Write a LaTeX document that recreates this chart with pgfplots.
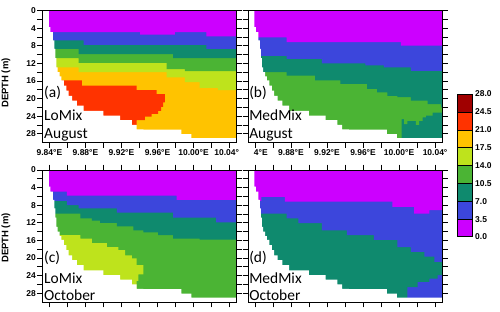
\documentclass[border=0pt]{standalone}
\usepackage{fontspec}
\setmainfont{Liberation Sans}
\newfontfamily\panelfont{Carlito}
\usepackage{pgfplots}
\pgfplotsset{compat=1.18}
\definecolor{cpur}{RGB}{204,0,255}
\definecolor{cblu}{RGB}{60,70,220}
\definecolor{ctea}{RGB}{15,138,110}
\definecolor{cgrn}{RGB}{75,180,52}
\definecolor{cygr}{RGB}{190,227,28}
\definecolor{camb}{RGB}{255,195,0}
\definecolor{cred}{RGB}{255,51,0}
\definecolor{cdrd}{RGB}{160,0,0}
\pgfplotsset{
  panel/.style={scale only axis, width=194bp, height=132bp, anchor=center,
    xmin=9.8323, xmax=10.0477, ymin=0, ymax=30, y dir=reverse, axis on top,
    xtick={9.84,9.88,9.92,9.96,10.00,10.04}, minor xtick={9.86,9.90,9.94,9.98,10.02},
    ytick={0,4,...,28}, minor ytick={2,6,...,26},
    tick align=outside, major tick length=5.5bp, minor tick length=5.5bp,
    tick style={black, line width=0.7pt}, axis line style={line width=0.9pt},
    ticklabel style={font=\fontsize{8.5}{9}\selectfont\bfseries, inner sep=1pt},
    /pgf/number format/assume math mode=true},
  layer/.style={const plot, fill=#1, draw=none},
}
\tikzset{ptext/.style={anchor=base west, inner sep=0pt, font=\panelfont\fontsize{15.5}{16}\selectfont}}
\newcommand{\seafloor}{\addplot[const plot, fill=white, draw=none] coordinates {(9.8323,30)(9.8323,0)(9.8393,3.8)(9.8411,4.9)(9.8437,6.8)(9.8456,8.7)(9.8467,10.8)(9.8478,12.9)(9.8492,14.0)(9.8514,15.0)(9.8533,15.9)(9.8559,17.1)(9.8588,18.2)(9.8614,19.4)(9.8651,20.5)(9.8706,21.6)(9.8780,22.8)(9.9000,23.9)(9.9185,24.9)(9.9314,26.0)(9.9369,27.0)(9.9442,27.1)(9.9866,28.1)(9.9976,29.0)(10.0477,29.0)(10.0477,30)} -- cycle;}
\begin{document}
\begin{tikzpicture}
\path[use as bounding box] (0,0) rectangle (500bp,312bp);
% ---------- (a) LoMix August
\begin{axis}[panel, at={(139.5bp,235.5bp)}, xtick pos=left,
  xticklabels={9.84°E,9.88°E,9.92°E,9.96°E,10.00°E,10.04°\phantom{E}}]
\addplot[fill=camb, draw=none] coordinates {(9.8323,30)(10.0477,30)} \closedcycle;
\addplot[fill=cred, draw=none] coordinates {(9.8533,30)(9.8533,15.9)(9.8761,15.9)(9.8761,17.1)(9.9369,17.1)(9.9369,18.1)(9.9590,18.1)(9.9590,19.0)(9.9682,19.0)(9.9682,20.9)(9.9663,20.9)(9.9663,21.9)(9.9641,21.9)(9.9641,22.8)(9.9608,22.8)(9.9608,23.5)(9.9534,23.5)(9.9534,24.1)(9.9461,24.1)(9.9461,24.9)(9.9369,24.9)(9.9369,26.0)(9.9314,26.0)(9.9314,30)} -- cycle;
\addplot[layer=cygr] coordinates {(9.8323,12.9)(9.8724,14.0)(9.9700,15.2)(9.9903,16.3)(10.0068,17.6)(10.0271,18.1)(10.0477,18.1)} \closedcycle;
\addplot[layer=cgrn] coordinates {(9.8323,10.8)(9.8724,11.9)(9.9700,13.3)(9.9903,13.8)(10.0477,13.8)} \closedcycle;
\addplot[layer=ctea] coordinates {(9.8323,8.7)(9.8724,9.9)(9.9774,10.8)(10.0477,10.8)} \closedcycle;
\addplot[layer=cblu] coordinates {(9.8323,6.8)(9.8780,7.8)(10.0142,8.7)(10.0477,8.7)} \closedcycle;
\addplot[layer=cpur] coordinates {(9.8323,4.9)(9.9406,5.5)(9.9792,4.9)(10.0142,5.9)(10.0477,5.9)} \closedcycle;
\seafloor
\node[ptext] at (axis cs:9.834,19.8) {(a)};
\node[ptext] at (axis cs:9.834,25.1) {LoMix};
\node[ptext] at (axis cs:9.834,29.0) {August};
\end{axis}
% ---------- (b) MedMix August
\begin{axis}[panel, at={(345bp,235.5bp)}, xtick pos=left, yticklabels={},
  xticklabels={\phantom{9.8}4°E,9.88°E,9.92°E,9.96°E,10.00°E,10.04°}]
\addplot[fill=ctea, draw=none] coordinates {(9.8323,30)(10.0477,30)} \closedcycle;
\addplot[layer=cgrn] coordinates {(9.8323,30)(10.0030,24.7)(10.0056,25.8)(10.0093,25.1)(10.0187,26.0)(10.0224,25.1)(10.0261,24.3)(10.0298,23.9)(10.0373,23.2)(10.0477,23.2)} \closedcycle;
\addplot[layer=ctea] coordinates {(9.8323,14.0)(9.8752,14.8)(9.9068,15.9)(9.9348,16.7)(9.9646,17.8)(9.9758,18.6)(9.9870,19.4)(9.9982,19.7)(10.0131,20.5)(10.0317,21.3)(10.0466,22.0)(10.0477,22.0)} \closedcycle;
\addplot[layer=cblu] coordinates {(9.8323,10.3)(9.8752,11.0)(9.9143,12.0)(9.9627,12.5)(9.9832,12.9)(10.0131,13.7)(10.0477,13.7)} \closedcycle;
\addplot[layer=cpur] coordinates {(9.8323,6.1)(9.8752,7.2)(10.0019,8.0)(10.0477,8.0)} \closedcycle;
\seafloor
\node[ptext] at (axis cs:9.8335,19.8) {(b)};
\node[ptext] at (axis cs:9.8335,25.1) {MedMix};
\node[ptext] at (axis cs:9.8335,29.0) {August};
\end{axis}
% ---------- (c) LoMix October
\begin{axis}[panel, at={(139.5bp,76bp)}, xticklabels={}]
\addplot[fill=cgrn, draw=none] coordinates {(9.8323,30)(10.0477,30)} \closedcycle;
\addplot[fill=cygr, draw=none] coordinates {(9.8503,30)(9.8503,14.8)(9.8743,14.8)(9.8743,15.6)(9.8872,15.6)(9.8872,16.6)(9.9037,16.6)(9.9037,17.5)(9.9166,17.5)(9.9166,18.2)(9.9240,18.2)(9.9240,19.4)(9.9314,19.4)(9.9314,20.1)(9.9369,20.1)(9.9369,21.6)(9.9442,21.6)(9.9442,23.7)(9.9387,23.7)(9.9387,25.2)(9.9369,25.2)(9.9369,30)} -- cycle;
\addplot[layer=ctea] coordinates {(9.8323,9.9)(9.8743,11.0)(9.8872,11.5)(9.8964,12.0)(9.9148,12.8)(9.9332,13.7)(9.9442,14.2)(9.9608,14.8)(9.9774,15.6)(10.0068,15.8)(10.0477,15.8)} \closedcycle;
\addplot[layer=cblu] coordinates {(9.8323,7.0)(9.8595,8.0)(9.8724,8.7)(9.9148,9.7)(9.9774,10.8)(10.0252,11.9)(10.0477,11.9)} \closedcycle;
\addplot[layer=cpur] coordinates {(9.8323,4.9)(9.8595,5.8)(9.9811,6.8)(10.0477,6.8)} \closedcycle;
\seafloor
\node[ptext] at (axis cs:9.834,21.0) {(c)};
\node[ptext] at (axis cs:9.834,25.8) {LoMix};
\node[ptext] at (axis cs:9.834,29.6) {October};
\end{axis}
% ---------- (d) MedMix October
\begin{axis}[panel, at={(345bp,76bp)}, xticklabels={}, yticklabels={}]
\addplot[fill=cblu, draw=none] coordinates {(9.8323,30)(10.0477,30)} \closedcycle;
\addplot[layer=ctea] coordinates {(9.8323,30)(10.0093,26.6)(10.0205,25.4)(10.0336,24.7)(10.0429,23.9)(10.0477,23.9)} \closedcycle;
\addplot[layer=cblu] coordinates {(9.8323,9.9)(9.8752,11.0)(9.8882,12.1)(9.9143,13.7)(9.9422,14.8)(9.9721,15.9)(9.9982,17.5)(10.0131,18.6)(10.0280,19.7)(10.0392,20.9)(10.0477,20.9)} \closedcycle;
\addplot[layer=cpur] coordinates {(9.8323,7.0)(9.8472,6.1)(9.8733,7.2)(9.9926,8.4)(10.0168,9.9)(10.0336,9.1)(10.0477,9.1)} \closedcycle;
\seafloor
\node[ptext] at (axis cs:9.8335,21.0) {(d)};
\node[ptext] at (axis cs:9.8335,25.8) {MedMix};
\node[ptext] at (axis cs:9.8335,29.6) {October};
\end{axis}
% ---------- colour bar
\begin{axis}[scale only axis, width=15bp, height=143bp, at={(464.5bp,146.5bp)}, anchor=center,
  xmin=0, xmax=1, ymin=0, ymax=28, xtick=\empty,
  ytick={0,3.5,7,10.5,14,17.5,21,24.5,28},
  yticklabels={0.0,3.5,7.0,10.5,14.0,17.5,21.0,24.5,28.0},
  yticklabel pos=right, major tick length=0pt, axis on top,
  axis line style={line width=1pt},
  ticklabel style={font=\fontsize{8.5}{9}\selectfont\bfseries, inner sep=1pt, xshift=2bp}]
\addplot[fill=cpur, draw=black] coordinates {(0,0)(1,0)(1,3.5)(0,3.5)} -- cycle;
\addplot[fill=cblu, draw=black] coordinates {(0,3.5)(1,3.5)(1,7)(0,7)} -- cycle;
\addplot[fill=ctea, draw=black] coordinates {(0,7)(1,7)(1,10.5)(0,10.5)} -- cycle;
\addplot[fill=cgrn, draw=black] coordinates {(0,10.5)(1,10.5)(1,14)(0,14)} -- cycle;
\addplot[fill=cygr, draw=black] coordinates {(0,14)(1,14)(1,17.5)(0,17.5)} -- cycle;
\addplot[fill=camb, draw=black] coordinates {(0,17.5)(1,17.5)(1,21)(0,21)} -- cycle;
\addplot[fill=cred, draw=black] coordinates {(0,21)(1,21)(1,24.5)(0,24.5)} -- cycle;
\addplot[fill=cdrd, draw=black] coordinates {(0,24.5)(1,24.5)(1,28)(0,28)} -- cycle;
\end{axis}
\node[rotate=90, font=\bfseries\fontsize{9.5}{10}\selectfont] at (6bp,229bp) {DEPTH (m)};
\node[rotate=90, font=\bfseries\fontsize{9.5}{10}\selectfont] at (6bp,74bp) {DEPTH (m)};
\end{tikzpicture}
\end{document}
